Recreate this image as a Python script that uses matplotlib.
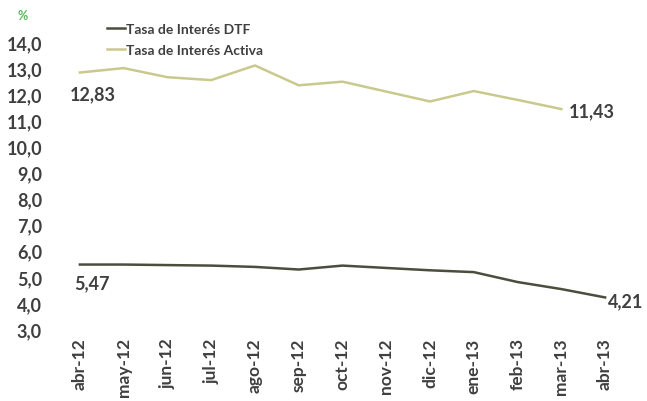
import matplotlib
matplotlib.use("Agg")
import matplotlib.pyplot as plt

# Meses del periodo abr-12 a abr-13
meses = ["abr-12", "may-12", "jun-12", "jul-12", "ago-12", "sep-12", "oct-12",
         "nov-12", "dic-12", "ene-13", "feb-13", "mar-13", "abr-13"]

# Tasas en %
tasa_dtf = [5.47, 5.47, 5.45, 5.43, 5.38, 5.28, 5.43, 5.34, 5.25, 5.18, 4.80, 4.53, 4.21]
tasa_activa = [12.83, 13.00, 12.65, 12.54, 13.10, 12.34, 12.48, 12.10, 11.72, 12.12, 11.78, 11.43]

y_ticks = [3, 4, 5, 6, 7, 8, 9, 10, 11, 12, 13, 14]

COLOR_DTF = "#4a4e3d"
COLOR_ACTIVA = "#c9c98e"
COLOR_TEXTO = "#3f3f3f"

plt.rcParams["font.family"] = ["Lato", "DejaVu Sans"]

fig = plt.figure(figsize=(6.47, 4.02), dpi=100)
ax = fig.add_axes([58 / 647, 1 - 330 / 402, (627 - 58) / 647, (330 - 43) / 402])

x = list(range(len(meses)))
ax.plot(x, tasa_dtf, color=COLOR_DTF, lw=1.8, label="Tasa de Interés DTF")
ax.plot(x[:len(tasa_activa)], tasa_activa, color=COLOR_ACTIVA, lw=1.8,
        label="Tasa de Interés Activa")

ax.set_xlim(-0.5, 12.5)
ax.set_ylim(3, 14)
ax.set_yticks(y_ticks)
ax.set_yticklabels([f"{v:.1f}".replace(".", ",") for v in y_ticks])
ax.set_xticks(x)
ax.set_xticklabels(meses, rotation=90)
ax.tick_params(length=0, labelsize=12.5, labelcolor=COLOR_TEXTO)
ax.tick_params(axis="y", pad=11.5, labelsize=13)
ax.tick_params(axis="x", pad=6)
for lbl in ax.get_xticklabels() + ax.get_yticklabels():
    lbl.set_fontweight("bold")
for sp in ax.spines.values():
    sp.set_visible(False)

def etiqueta(xi, yi, dx, dy, ha):
    ax.annotate(f"{yi:.2f}".replace(".", ","), (xi, yi), xytext=(dx, dy),
                textcoords="offset pixels", ha=ha, va="center",
                fontsize=13, fontweight="bold", color=COLOR_TEXTO)

etiqueta(0, tasa_activa[0], 13, -21, "center")
etiqueta(len(tasa_activa) - 1, tasa_activa[-1], 7, -2, "left")
etiqueta(0, tasa_dtf[0], 12, -18, "center")
etiqueta(len(tasa_dtf) - 1, tasa_dtf[-1], 3, -3, "left")

fig.text(23 / 647, 1 - 16 / 402, "%", color="#5cb85c", fontsize=9,
         fontweight="bold", ha="center", va="center")

fig.legend(loc="upper left", bbox_to_anchor=(107 / 647, 1 - 24 / 402),
           frameon=False, handlelength=1.3, handletextpad=0.05,
           labelspacing=0.65, borderpad=0, borderaxespad=0,
           prop={"size": 10, "weight": "bold"}, labelcolor=COLOR_TEXTO)

fig.savefig("out.png", dpi=100, facecolor="white")
